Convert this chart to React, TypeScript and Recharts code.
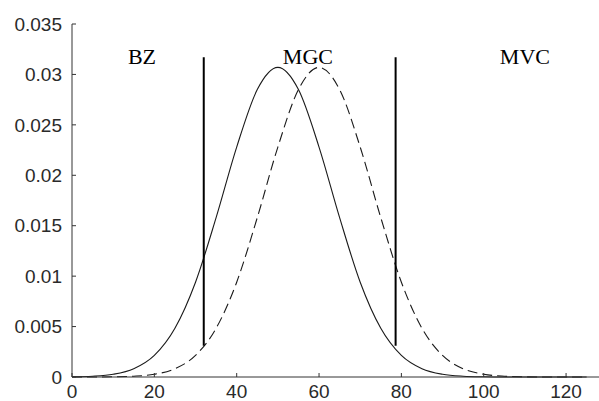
import { Line, LineChart, ReferenceDot, ReferenceLine, XAxis, YAxis } from "recharts";

const xs = [0, 5, 10, 15, 20, 25, 30, 35, 40, 45, 50, 55, 60, 65, 70, 75, 80, 85, 90, 95, 100, 105, 110, 115, 120, 125];
const solidVals = [
  0.00002, 0.00008, 0.00027, 0.00082, 0.00214, 0.00483, 0.0094, 0.0158, 0.0228, 0.0285, 0.0307, 0.0285, 0.0228,
  0.0158, 0.0094, 0.00483, 0.00214, 0.00082, 0.00027, 0.00008, 0.00002, 0, 0, 0, 0, 0
];
const dashedVals = [
  0, 0, 0.00002, 0.00008, 0.00027, 0.00082, 0.00214, 0.00483, 0.0094, 0.0158, 0.0228, 0.0285, 0.0307, 0.0285,
  0.0228, 0.0158, 0.0094, 0.00483, 0.00214, 0.00082, 0.00027, 0.00008, 0.00002, 0, 0, 0
];
const xTicks = [0, 20, 40, 60, 80, 100, 120];
const yTicks = [0, 0.005, 0.01, 0.015, 0.02, 0.025, 0.03, 0.035];
const boundaries = [32, 78.6];
const zoneLabels = [
  { name: "BZ", x: 17 },
  { name: "MGC", x: 57.3 },
  { name: "MVC", x: 110 }
];

const rows = xs.map((x, i) => ({ x, solid: solidVals[i], dashed: dashedVals[i] }));

const tickStyle = { fontSize: 19, fill: "#2a2a2a", fontFamily: "Liberation Sans, Arial, sans-serif" };

export default function App() {
  return (
    <div style={{ position: "absolute", left: 0, top: 0, background: "#fff" }}>
      <LineChart width={599} height={401} data={rows} margin={{ top: 24, right: 0, bottom: 0, left: 0 }}>
        <XAxis
          dataKey="x"
          type="number"
          domain={[0, 128]}
          ticks={xTicks}
          allowDataOverflow
          height={24}
          stroke="#333"
          tickSize={-4}
          tickMargin={12}
          tick={tickStyle}
        />
        <XAxis
          xAxisId="top"
          orientation="top"
          dataKey="x"
          type="number"
          domain={[0, 128]}
          ticks={xTicks}
          allowDataOverflow
          height={0}
          stroke="#333"
          tickSize={-4}
          tick={false}
        />
        <YAxis
          type="number"
          domain={[0, 0.035]}
          ticks={yTicks}
          width={72}
          stroke="#333"
          tickSize={-4}
          tickMargin={14}
          tick={tickStyle}
          tickFormatter={(v) => String(v)}
        />
        <Line
          type="monotone"
          dataKey="solid"
          stroke="#1a1a1a"
          strokeWidth={1.1}
          dot={false}
          isAnimationActive={false}
        />
        <Line
          type="monotone"
          dataKey="dashed"
          stroke="#1a1a1a"
          strokeWidth={1.1}
          strokeDasharray="10 5"
          dot={false}
          isAnimationActive={false}
        />
        {boundaries.map((b) => (
          <ReferenceLine
            key={b}
            segment={[
              { x: b, y: 0.0031 },
              { x: b, y: 0.0317 }
            ]}
            stroke="#000"
            strokeWidth={2}
          />
        ))}
        {zoneLabels.map((z) => (
          <ReferenceDot
            key={z.name}
            x={z.x}
            y={0.0318}
            r={0}
            fill="none"
            stroke="none"
            label={{
              value: z.name,
              position: "center",
              fill: "#000",
              fontSize: 22,
              fontFamily: "Liberation Serif, Times New Roman, serif"
            }}
          />
        ))}
      </LineChart>
    </div>
  );
}
